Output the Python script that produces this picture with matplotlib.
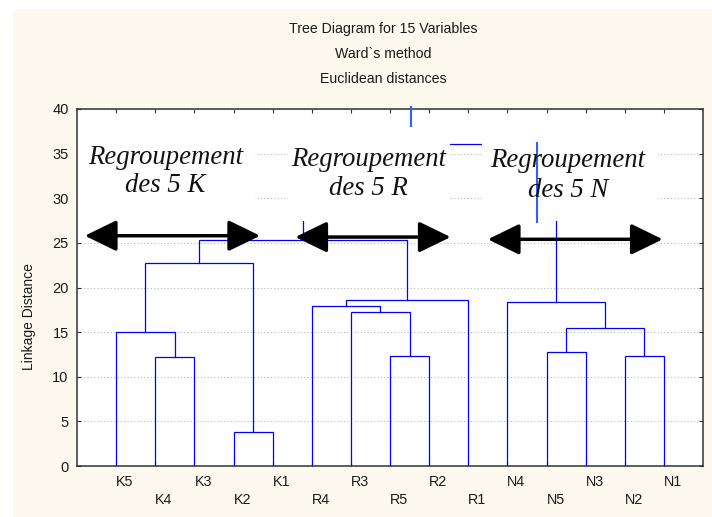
import matplotlib
matplotlib.use('Agg')
import matplotlib.pyplot as plt
from matplotlib.patches import Rectangle
from matplotlib.transforms import blended_transform_factory

# ---------------- data ----------------
leaf_labels = ['K5', 'K4', 'K3', 'K2', 'K1', 'R4', 'R3', 'R5', 'R2', 'R1',
               'N4', 'N5', 'N3', 'N2', 'N1']
# merges: ids 0..14 are leaves, 15.. are merged clusters (in order)
merge_left = [1, 0, 3, 16, 7, 6, 5, 21, 18, 11, 13, 24, 10, 23]
merge_right = [2, 15, 4, 17, 8, 19, 20, 9, 22, 12, 14, 25, 26, 27]
merge_height = [12.25, 15.05, 3.85, 22.7, 12.35, 17.2, 17.9, 18.63, 25.3,
                12.8, 12.3, 15.5, 18.4, 36.1]
yticks = [0, 5, 10, 15, 20, 25, 30, 35, 40]

# stray visible line fragments (x, y_bottom, y_top)
stray_x = [11.75, 8.53]
stray_y0 = [27.26, 37.95]
stray_y1 = [36.34, 40.3]

group_titles = ['Regroupement\ndes 5 K', 'Regroupement\ndes 5 R', 'Regroupement\ndes 5 N']

# ---------------- figure ----------------
plt.rcParams['font.family'] = ['Liberation Sans', 'DejaVu Sans']
fig = plt.figure(figsize=(7.12, 5.17), dpi=100)
fig.patch.set_facecolor('white')
fig.patches.append(Rectangle((13 / 712, 0), 1, 1 - 9 / 517, transform=fig.transFigure,
                             facecolor='#fdf9ee', edgecolor='none', zorder=-10))

ax = fig.add_axes([77 / 712, 51 / 517, 626 / 712, 357 / 517])
ax.set_facecolor('white')
ax.set_xlim(0, 16)
ax.set_ylim(0, 40)
ax.set_axisbelow(True)
ax.yaxis.grid(True, linestyle=(0, (1, 2)), color='#b8b8b8', linewidth=0.8)

# dendrogram
pos = [i + 1 for i in range(len(leaf_labels))]
hgt = [0.0] * len(leaf_labels)
for l, r, h in zip(merge_left, merge_right, merge_height):
    xl, xr = pos[l], pos[r]
    ax.plot([xl, xl, xr, xr], [hgt[l], h, h, hgt[r]], color='#0000ff',
            linewidth=0.9, zorder=2, solid_joinstyle='miter')
    pos.append((xl + xr) / 2)
    hgt.append(h)

# white text boxes covering the upper part
box_x0 = [0.0, 5.39, 10.34]
box_x1 = [4.55, 9.53, 14.85]
for x0, x1 in zip(box_x0, box_x1):
    ax.add_patch(Rectangle((x0, 27.5), x1 - x0, 10.2, facecolor='white',
                           edgecolor='none', zorder=2.5))

for x, y0, y1 in zip(stray_x, stray_y0, stray_y1):
    ax.plot([x, x], [y0, y1], color='#3060ff', linewidth=1.5, zorder=3,
            clip_on=False, solid_capstyle='butt')

# group annotations
text_x = [2.26, 7.45, 12.55]
text_y1 = [33.84, 33.65, 33.54]
text_y2 = [30.7, 30.36, 30.17]
for t, x, y1, y2 in zip(group_titles, text_x, text_y1, text_y2):
    a, b = t.split('\n')
    ax.text(x, y1, a, ha='center', va='baseline', fontsize=19.3,
            family='Liberation Serif', style='italic', color='#111111', zorder=4)
    ax.text(x, y2, b, ha='center', va='baseline', fontsize=19.3,
            family='Liberation Serif', style='italic', color='#111111', zorder=4)

arrow_x0 = [0.2, 5.58, 10.5]
arrow_x1 = [4.68, 9.55, 14.97]
arrow_y = [25.8, 25.65, 25.4]
for x0, x1, y in zip(arrow_x0, arrow_x1, arrow_y):
    ax.annotate('', xy=(x1, y), xytext=(x0, y),
                arrowprops=dict(arrowstyle='<|-|>,head_length=19.5,head_width=9.5',
                                mutation_scale=1, color='black', lw=2.5,
                                shrinkA=0, shrinkB=0),
                zorder=5)

# axes styling
for s in ax.spines.values():
    s.set_color('#333333')
    s.set_linewidth(1.1)
ax.set_yticks(yticks)
ax.set_yticklabels([str(v) for v in yticks], fontsize=10.5, color='#1a1a1a')
ax.set_xticks(range(1, 16))
ax.set_xticklabels([])
ax.tick_params(axis='both', direction='in', length=3, width=0.8, color='#333333',
               top=True, right=True)
ax.tick_params(axis='y', pad=6)

trans = blended_transform_factory(ax.transData, ax.transAxes)
for i, lab in enumerate(leaf_labels):
    yy = -0.044 if i % 2 == 0 else -0.0966
    ax.text(i + 1, yy, lab, ha='left', va='center', fontsize=10.3,
            color='#1a1a1a', transform=trans)

fig.text(29 / 712, 1 - 317 / 517, 'Linkage Distance', rotation=90, ha='center',
         va='center', fontsize=10, color='#1a1a1a')

title_lines = ['Tree Diagram for 15 Variables', 'Ward`s method', 'Euclidean distances']
title_y = [29.5, 54, 79]
for t, y in zip(title_lines, title_y):
    fig.text(383 / 712, 1 - y / 517, t, ha='center', va='center', fontsize=10.2,
             color='#1a1a1a')

fig.savefig('out.png', dpi=100)
